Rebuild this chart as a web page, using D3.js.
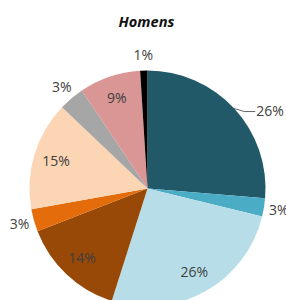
<!DOCTYPE html>
<html>
<head>
<meta charset="utf-8">
<script src="https://cdn.jsdelivr.net/npm/d3@7"></script>
<style>
  html, body { margin: 0; padding: 0; background: #fff; }
  svg { display: block; }
</style>
</head>
<body>
<svg id="chart" width="286" height="300"></svg>
<script>
const title = "Homens";
const categories = ["A", "B", "C", "D", "E", "F", "G", "H", "I"];
const values = [26.3, 2.5, 26.1, 14.2, 3.1, 14.9, 3.5, 8.4, 1.0];
const labels = ["26%", "3%", "26%", "14%", "3%", "15%", "3%", "9%", "1%"];
const colors = ["#215968", "#4BACC6", "#B7DEE8", "#984807", "#E46C0A", "#FCD5B5", "#A6A6A6", "#D99694", "#000000"];
const inside = [false, false, true, true, false, true, false, true, false];

const svg = d3.select("#chart");
const cx = 147.5, cy = 188.5, r = 118;
const font = "'Open Sans', 'Liberation Sans', sans-serif";

svg.append("text")
  .attr("x", 146.5).attr("y", 27)
  .attr("text-anchor", "middle")
  .attr("font-family", font)
  .attr("font-size", 14.6)
  .attr("font-weight", "bold")
  .attr("font-style", "italic")
  .attr("fill", "#111")
  .text(title);

const data = categories.map((c, i) => ({ c, v: values[i], label: labels[i], color: colors[i], inside: inside[i] }));
const pie = d3.pie().value(d => d.v).sort(null);
const arcs = pie(data);
const arc = d3.arc().innerRadius(0).outerRadius(r);

const g = svg.append("g").attr("transform", `translate(${cx},${cy})`);
g.selectAll("path").data(arcs).join("path")
  .attr("d", arc)
  .attr("fill", d => d.data.color);

function pt(angle, rad) {
  return [Math.sin(angle) * rad, -Math.cos(angle) * rad];
}

arcs.forEach((a, i) => {
  const mid = (a.startAngle + a.endAngle) / 2;
  let x, y, anchor = "middle";
  if (i === 0) {
    const [ex, ey] = pt(mid, r);
    const bx = ex + 10, by = ey + 3;
    const tx = bx + 12;
    g.append("path")
      .attr("d", `M${ex},${ey}L${bx},${by}L${tx - 1},${by}`)
      .attr("fill", "none")
      .attr("stroke", "#404040")
      .attr("stroke-width", 0.8);
    x = tx; y = by; anchor = "start";
  } else if (a.data.inside) {
    [x, y] = pt(mid, r * 0.81);
  } else {
    [x, y] = pt(mid, r + 15);
  }
  g.append("text")
    .attr("x", x).attr("y", y)
    .attr("dy", "0.35em")
    .attr("text-anchor", anchor)
    .attr("font-family", font)
    .attr("font-size", 14)
    .attr("fill", "#404040")
    .text(a.data.label);
});
</script>
</body>
</html>
